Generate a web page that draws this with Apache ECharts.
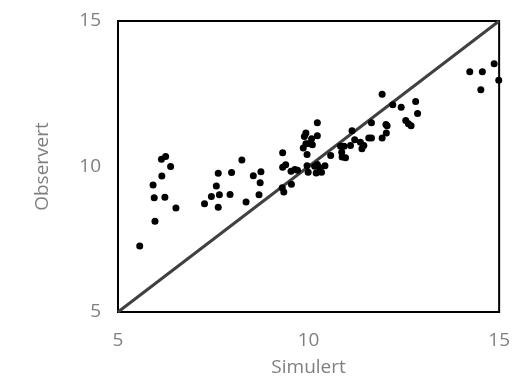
<!DOCTYPE html>
<html>
<head>
<meta charset="utf-8">
<script src="https://cdn.jsdelivr.net/npm/echarts@6/dist/echarts.min.js"></script>
<style>
  html, body { margin: 0; padding: 0; background: #fff; }
  #chart { width: 513px; height: 382px; }
</style>
</head>
<body>
<div id="chart"></div>
<script>
// simulert (x) og observert (y) verdier, lest av bildet
var simulert = [
  5.57, 5.92, 5.95, 5.97, 6.14, 6.25, 6.15, 6.38, 6.23, 6.52,
  7.27, 7.45, 7.63, 7.58, 7.66, 7.63, 7.94, 7.98, 8.25, 8.36,
  8.55, 8.75, 8.73, 8.70, 9.32, 9.32, 9.40, 9.31, 9.35, 9.55,
  9.54, 9.64, 9.71, 9.89, 9.93, 9.86, 9.93, 9.96, 9.96, 9.99,
  10.08, 10.23, 10.23, 10.01, 10.10, 10.16, 10.23, 10.20, 10.29, 10.34,
  10.43, 10.58, 10.84, 10.93, 10.87, 10.88, 10.97, 11.10, 11.14, 11.21,
  11.36, 11.40, 11.45, 11.58, 11.65, 11.65, 11.93, 11.93, 12.03, 12.06,
  12.04, 12.21, 12.43, 12.55, 12.62, 12.69, 12.81, 12.86, 14.23, 14.56,
  14.52, 14.87, 14.99
];
var observert = [
  7.27, 9.36, 8.93, 8.12, 10.25, 10.34, 9.67, 10.00, 8.94, 8.57,
  8.72, 8.97, 9.77, 9.33, 9.03, 8.60, 9.04, 9.79, 10.22, 8.78,
  9.68, 9.82, 9.44, 9.03, 10.47, 9.97, 10.06, 9.27, 9.12, 9.39,
  9.84, 9.90, 9.87, 11.03, 11.15, 10.64, 10.78, 10.41, 10.03, 9.80,
  10.95, 11.50, 11.06, 10.79, 10.75, 10.01, 10.07, 9.78, 9.96, 9.80,
  10.03, 10.38, 10.70, 10.70, 10.49, 10.33, 10.30, 10.72, 11.23, 10.92,
  10.83, 10.61, 10.72, 10.98, 10.98, 11.50, 12.48, 10.98, 11.44, 11.40,
  11.15, 12.12, 12.04, 11.58, 11.47, 11.40, 12.23, 11.82, 13.26, 13.26,
  12.64, 13.53, 12.96
];
// 1:1 linje
var linjeX = [5, 15];
var linjeY = [5, 15];
var tickLabels = ['5', '10', '15'];

var punkter = simulert.map(function (x, i) { return [x, observert[i]]; });
var linje = linjeX.map(function (x, i) { return [x, linjeY[i]]; });

var chart = echarts.init(document.getElementById('chart'));
var labelFont = 'Open Sans, Liberation Sans, sans-serif';

var option = {
  animation: false,
  grid: {
    left: 118,
    top: 21,
    right: 12,
    bottom: 69,
    show: true,
    borderColor: '#000',
    borderWidth: 2
  },
  xAxis: {
    type: 'value',
    min: 5,
    max: 15,
    interval: 5,
    name: 'Simulert',
    nameLocation: 'middle',
    nameGap: 46,
    nameTextStyle: { color: '#7f7f7f', fontSize: 19, fontFamily: labelFont },
    axisLine: { show: false },
    axisTick: { show: false },
    splitLine: { show: false },
    axisLabel: {
      color: '#7f7f7f',
      fontSize: 19,
      fontFamily: labelFont,
      margin: 19,
      formatter: function (v) { return tickLabels[(v - 5) / 5]; }
    }
  },
  yAxis: {
    type: 'value',
    min: 5,
    max: 15,
    interval: 5,
    name: 'Observert',
    nameLocation: 'middle',
    nameGap: 66,
    nameTextStyle: { color: '#7f7f7f', fontSize: 19, fontFamily: labelFont },
    axisLine: { show: false },
    axisTick: { show: false },
    splitLine: { show: false },
    axisLabel: {
      color: '#7f7f7f',
      fontSize: 19,
      fontFamily: labelFont,
      margin: 17,
      formatter: function (v) { return tickLabels[(v - 5) / 5]; }
    }
  },
  series: [
    {
      type: 'line',
      data: linje,
      showSymbol: false,
      lineStyle: { color: '#404040', width: 3 },
      z: 1
    },
    {
      type: 'scatter',
      data: punkter,
      symbolSize: 7,
      itemStyle: { color: '#000', opacity: 1 },
      z: 2
    }
  ]
};

chart.setOption(option);
</script>
</body>
</html>
